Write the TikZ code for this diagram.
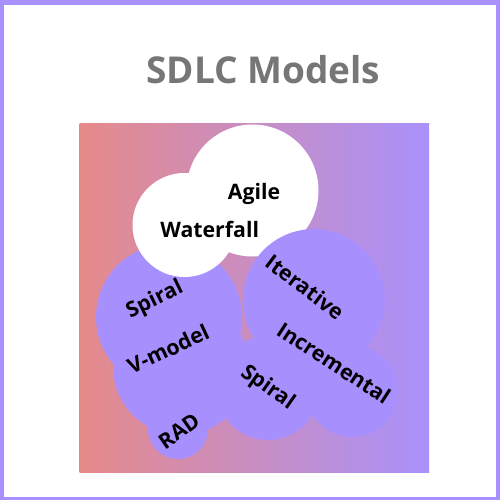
\documentclass[tikz,border=0pt]{standalone}
\usepackage{fontspec}
\setmainfont{Open Sans}
\definecolor{frame}{RGB}{168,144,255}
\definecolor{blob}{RGB}{167,143,254}
\definecolor{gleft}{RGB}{230,138,138}
\definecolor{gright}{RGB}{169,145,252}
\definecolor{titlegray}{RGB}{118,118,118}
\tikzset{
  lbl/.style={font=\bfseries\fontsize{21.3}{24}\selectfont, text=black, inner sep=0pt},
}
\begin{document}
\begin{tikzpicture}[x=1pt,y=-1pt]
\useasboundingbox (0,0) rectangle (500,500);
\fill[frame] (0,0) rectangle (500,500);
\fill[white] (4,5.5) rectangle (495.7,497.3);
\node[font=\bfseries\fontsize{37}{40}\selectfont, text=titlegray, anchor=base, inner sep=0pt] (title) at (263.3,84) {SDLC Models};
\shade[left color=gleft, right color=gright] (79.5,123.5) rectangle (429,472.7);
% left purple group
\fill[blob] (169,317) circle (73);
\fill[blob] (181,367) circle (68);
\fill[blob] (178,429) circle (30);
% white cloud
\fill[white] (252.5,190.5) circle (66);
\fill[white] (184.5,225) circle (52);
% right purple group
\fill[blob] (314,300) circle (71);
\fill[blob] (268,388) circle (52);
\fill[blob] (352,391) circle (46);
% labels
\node[lbl, anchor=base] (agile) at (254,199) {Agile};
\node[lbl, anchor=base] (waterfall) at (209.7,237.3) {Waterfall};
\node[lbl, rotate=26] (spiral1) at (155,300) {Spiral};
\node[lbl, rotate=25] (vmodel) at (168,349) {V-model};
\node[lbl, rotate=-37] (iterative) at (305,287) {Iterative};
\node[lbl, rotate=-33] (incremental) at (334,363) {Incremental};
\node[lbl, rotate=-35] (spiral2) at (267.5,388) {Spiral};
\node[lbl, rotate=35] (rad) at (179,431) {RAD};
\end{tikzpicture}
\end{document}
